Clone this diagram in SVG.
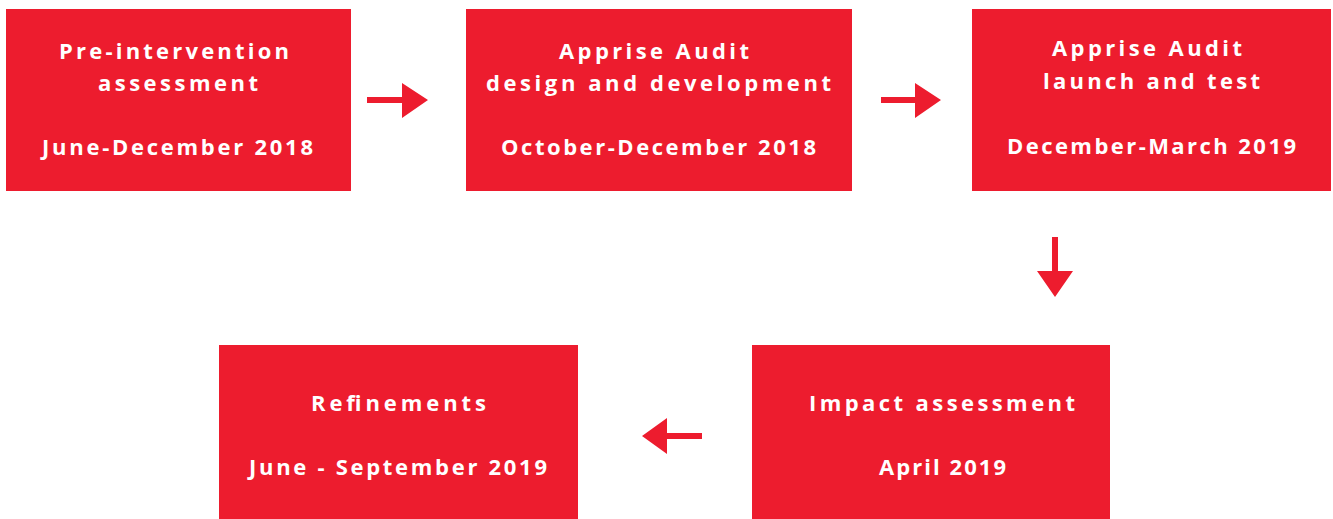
<svg xmlns="http://www.w3.org/2000/svg" width="1333" height="519" viewBox="0 0 1333 519">
<style>
.box{fill:#ED1C2E}
.t{fill:#ffffff;font-family:"Open Sans","DejaVu Sans",sans-serif;font-weight:700;font-size:22px}
.arr{fill:#ED1C2E}
</style>
<rect width="1333" height="519" fill="#ffffff"/>
<g id="node-pre">
<rect class="box" x="6" y="9" width="345" height="182"/>
<text class="t" x="59" y="59" textLength="230" lengthAdjust="spacing">Pre-intervention</text>
<text class="t" x="98" y="91" textLength="160" lengthAdjust="spacing">assessment</text>
<text class="t" x="42" y="155" textLength="271" lengthAdjust="spacing">June-December 2018</text>
</g>
<g id="node-design">
<rect class="box" x="466" y="9" width="386" height="182"/>
<text class="t" x="559" y="59" textLength="190" lengthAdjust="spacing">Apprise Audit</text>
<text class="t" x="486" y="91" textLength="345" lengthAdjust="spacing">design and development</text>
<text class="t" x="501" y="155" textLength="315" lengthAdjust="spacing">October-December 2018</text>
</g>
<g id="node-launch">
<rect class="box" x="972" y="9" width="359" height="182"/>
<text class="t" x="1052" y="56" textLength="190" lengthAdjust="spacing">Apprise Audit</text>
<text class="t" x="1043" y="89" textLength="217" lengthAdjust="spacing">launch and test</text>
<text class="t" x="1007" y="154" textLength="289" lengthAdjust="spacing">December-March 2019</text>
</g>
<g id="node-impact">
<rect class="box" x="752" y="345" width="358" height="174"/>
<text class="t" x="809" y="411" textLength="266" lengthAdjust="spacing">Impact assessment</text>
<text class="t" x="879" y="475" textLength="127" lengthAdjust="spacing">April 2019</text>
</g>
<g id="node-refine">
<rect class="box" x="219" y="345" width="359" height="174"/>
<text class="t" x="311" y="411" textLength="175" lengthAdjust="spacing">Refinements</text>
<text class="t" x="249" y="475" textLength="298" lengthAdjust="spacing">June - September 2019</text>
</g>
<g id="connectors">
<path class="arr" d="M367,97 H402 V83 L428,100 L402,118 V103 H367 Z"/>
<path class="arr" d="M881,97 H915 V83 L941,100 L915,118 V103 H881 Z"/>
<path class="arr" d="M1052,237 H1058 V271 H1073 L1055,297 L1037,271 H1052 Z"/>
<path class="arr" d="M702,433 V439 H667 V454 L642,436 L667,418 V433 Z"/>
</g>
</svg>
